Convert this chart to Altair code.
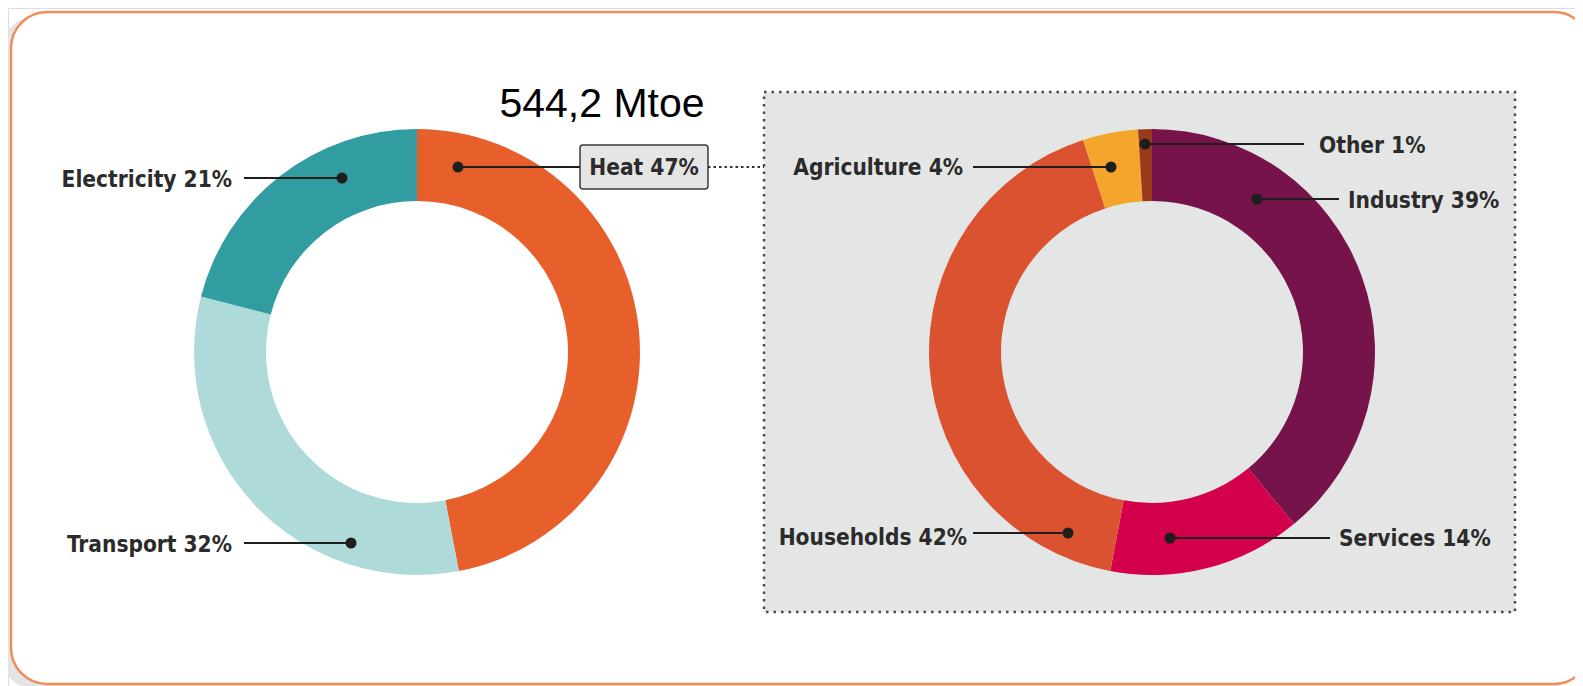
import altair as alt
import pandas as pd

# ---------------- data ----------------
left_cats = ["Heat", "Transport", "Electricity"]
left_vals = [47, 32, 21]
right_cats = ["Industry", "Services", "Households", "Agriculture", "Other"]
right_vals = [39, 14, 42, 4, 1]
total_text = "544,2 Mtoe"

# ---------------- styles ----------------
color_map = {
    "Heat": "#E7602C",
    "Transport": "#AEDBDA",
    "Electricity": "#329DA0",
    "Industry": "#76134B",
    "Services": "#D3004B",
    "Households": "#DA5230",
    "Agriculture": "#F4A62C",
    "Other": "#9A3A1C",
}
LABEL_FONT = "'Liberation Sans Narrow', 'DejaVu Sans Condensed', 'Roboto Condensed', 'Liberation Sans', sans-serif"
LABEL_SIZE = 22.5
TEXT_COL = "#2B2B2B"

W, H = 1567, 678   # svg size (page minus 8px margins)
M = 8              # page margin

def P(v):
    return v - M

# layout (page pixel coordinates) ----------------------------------------
L_CX, L_CY = 417, 352
R_CX, R_CY = 1152, 352
R_OUT, R_IN = 223, 151

# per label: text anchor x, baseline y, align, line start x, dot x, dot y
layout = {
    "Electricity": (232, 187, "right", 244, 342, 178),
    "Transport":   (232, 552, "right", 244, 351, 543),
    "Agriculture": (963, 175, "right", 973, 1111, 167),
    "Households":  (967, 545, "right", 973, 1068, 533),
    "Other":       (1319, 153, "left", 1304, 1145, 144),
    "Industry":    (1348, 208, "left", 1339, 1257, 199),
    "Services":    (1339, 546, "left", 1330, 1170, 538),
}
HEAT_BOX = (580, 145, 708, 189)
HEAT_DOT = (458, 167)
GREY_BOX = (764, 92, 1515, 612)

# ---------------- tables ----------------
left_df = pd.DataFrame({"cat": left_cats, "value": left_vals, "idx": range(len(left_cats))})
right_df = pd.DataFrame({"cat": right_cats, "value": right_vals, "idx": range(len(right_cats))})

all_vals = dict(zip(left_cats + right_cats, left_vals + right_vals))
rows = []
for cat, (tx, ty, al, lx, dx, dy) in layout.items():
    rows.append({"cat": cat, "label": f"{cat} {all_vals[cat]}%", "tx": P(tx), "ty": P(ty),
                 "align": al, "lx": P(lx), "dx": P(dx), "dy": P(dy)})
rows.append({"cat": "Heat", "label": f"Heat {all_vals['Heat']}%",
             "tx": P((HEAT_BOX[0] + HEAT_BOX[2]) / 2), "ty": P(175), "align": "center",
             "lx": P(HEAT_BOX[0]), "dx": P(HEAT_DOT[0]), "dy": P(HEAT_DOT[1])})
lab_df = pd.DataFrame(rows)

one = pd.DataFrame({"a": [0]})

xs = alt.Scale(domain=[0, W], range=[0, W], nice=False, zero=False)
ys = alt.Scale(domain=[0, H], range=[0, H], nice=False, zero=False)
cscale = alt.Scale(domain=list(color_map.keys()), range=list(color_map.values()))

# ---------------- layers ----------------
shadow = alt.Chart(one).mark_rect(cornerRadius=36, fill="#E4E4E4").encode(
    x=alt.value(P(1)), x2=alt.value(P(1578)), y=alt.value(P(16)), y2=alt.value(P(690)))

frame = alt.Chart(one).mark_rect(cornerRadius=36, fill="white", stroke="#F08C58",
                                 strokeWidth=2.5).encode(
    x=alt.value(P(11)), x2=alt.value(P(1590)), y=alt.value(P(12)), y2=alt.value(P(684)))

grey_box = alt.Chart(one).mark_rect(fill="#E4E5E5", stroke="#4A4A4A", strokeWidth=2.5,
                                    strokeDash=[2.5, 5]).encode(
    x=alt.value(P(GREY_BOX[0])), x2=alt.value(P(GREY_BOX[2])),
    y=alt.value(P(GREY_BOX[1])), y2=alt.value(P(GREY_BOX[3])))

theta = alt.Theta("value:Q", stack=True, scale=alt.Scale(domain=[0, 100]))
col = alt.Color("cat:N", scale=cscale, legend=None)

left_arc = alt.Chart(left_df).mark_arc(radius=R_OUT, radius2=R_IN).encode(
    theta=theta, color=col, order=alt.Order("idx:Q"),
    x=alt.value(P(L_CX)), y=alt.value(P(L_CY)))

right_arc = alt.Chart(right_df).mark_arc(radius=R_OUT, radius2=R_IN).encode(
    theta=theta, color=col, order=alt.Order("idx:Q"),
    x=alt.value(P(R_CX)), y=alt.value(P(R_CY)))

connector = alt.Chart(one).mark_rule(stroke="#333333", strokeWidth=2, strokeDash=[2.5, 3]).encode(
    x=alt.value(P(HEAT_BOX[2])), x2=alt.value(P(GREY_BOX[0])),
    y=alt.value(P(HEAT_DOT[1])), y2=alt.value(P(HEAT_DOT[1])))

heat_box = alt.Chart(one).mark_rect(cornerRadius=3, fill="#E4E5E5", stroke="#3A3A3A",
                                    strokeWidth=1.5).encode(
    x=alt.value(P(HEAT_BOX[0])), x2=alt.value(P(HEAT_BOX[2])),
    y=alt.value(P(HEAT_BOX[1])), y2=alt.value(P(HEAT_BOX[3])))

base = alt.Chart(lab_df)
lines = base.mark_rule(stroke="#1E1E1E", strokeWidth=2).encode(
    x=alt.X("lx:Q", scale=xs, axis=None), x2="dx:Q",
    y=alt.Y("dy:Q", scale=ys, axis=None))
dots = base.mark_circle(size=121, color="#1E1E1E", opacity=1).encode(
    x=alt.X("dx:Q", scale=xs, axis=None), y=alt.Y("dy:Q", scale=ys, axis=None))

def text_layer(al):
    return base.transform_filter(alt.datum.align == al).mark_text(
        align=al, baseline="alphabetic", font=LABEL_FONT, fontSize=LABEL_SIZE,
        fontWeight="bold", color=TEXT_COL).encode(
        x=alt.X("tx:Q", scale=xs, axis=None), y=alt.Y("ty:Q", scale=ys, axis=None),
        text="label:N")

title = alt.Chart(pd.DataFrame({"t": [total_text]})).mark_text(
    align="center", baseline="alphabetic", font="'Liberation Sans', Arial, sans-serif",
    fontSize=41, color="#000000").encode(
    x=alt.value(P(602)), y=alt.value(P(117)), text="t:N")

chart = alt.layer(
    shadow, frame, grey_box, left_arc, right_arc, connector, heat_box,
    lines, dots, text_layer("right"), text_layer("left"), text_layer("center"), title
).properties(
    width=W, height=H, autosize=alt.AutoSizeParams(type="none"), padding=0
).configure_view(stroke=None).configure(background="white")

chart.save("out.html", embed_options={"renderer": "svg", "actions": False})
